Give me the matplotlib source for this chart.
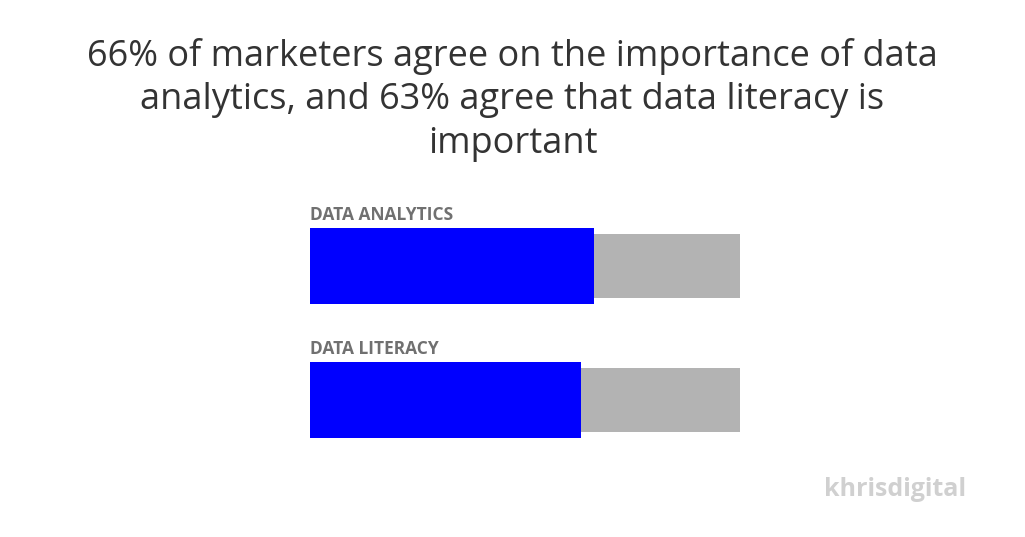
import matplotlib
matplotlib.use("Agg")
import matplotlib.pyplot as plt

title = "66% of marketers agree on the importance of data\nanalytics, and 63% agree that data literacy is\nimportant"
categories = ["DATA ANALYTICS", "DATA LITERACY"]
values = [66, 63]
total = 100

W, H = 1025, 537
fig = plt.figure(figsize=(W/100, H/100), dpi=100)
fig.patch.set_facecolor("white")
fig.text(0.5, 1 - 100/H, title, ha="center", va="center", fontsize=26,
         color="#333333", family="Open Sans", linespacing=1.27)

ax = fig.add_axes([310/W, (537-450)/H, 430/W, 250/H])
ax.set_xlim(0, total)
ax.set_ylim(450, 200)
ax.axis("off")
pos = [266, 400]
for p, c, v in zip(pos, categories, values):
    ax.barh(p, total, height=64, color="#b3b3b3", left=0)
    ax.barh(p, v, height=76, color="#0000ff", left=0)
    ax.text(0, p - 42, c, fontsize=12.5, fontweight="bold", color="#707070",
            family="Open Sans", va="bottom", ha="left")

fig.text(895/W, 1 - 490/H, "khrisdigital", ha="center", va="center",
         fontsize=18, color="#d0d0d0", family="Open Sans", fontweight="bold")
fig.savefig("out.png", dpi=100, facecolor="white")
